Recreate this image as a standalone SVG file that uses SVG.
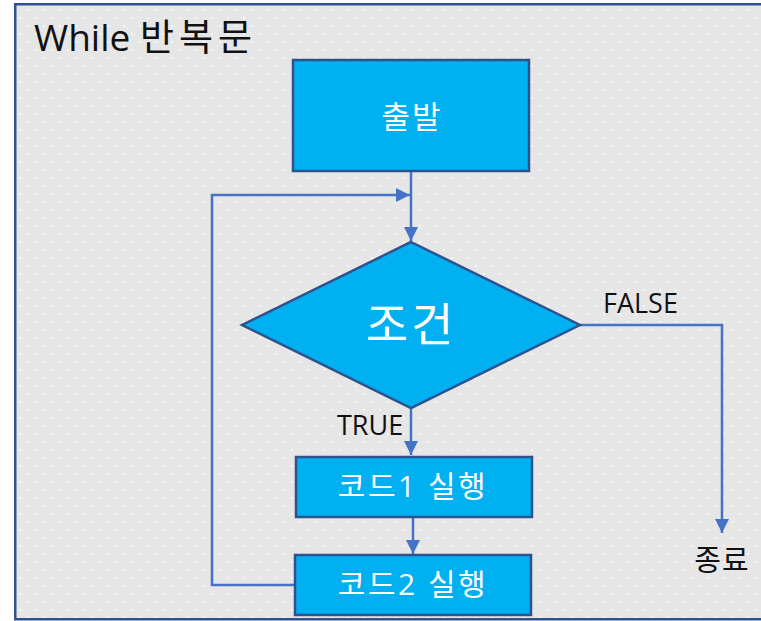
<svg xmlns="http://www.w3.org/2000/svg" width="761" height="621" viewBox="0 0 761 621">
  <defs>
    <pattern id="dots" x="0" y="0" width="16" height="16" patternUnits="userSpaceOnUse">
      <rect x="0" y="0" width="16" height="16" fill="#e7e6e6"/>
      <rect x="3" y="1" width="2" height="2" fill="#f6f6f6"/>
      <rect x="11" y="9" width="2" height="2" fill="#f6f6f6"/>
    </pattern>
    <marker id="arrow" markerUnits="userSpaceOnUse" markerWidth="16" markerHeight="16" viewBox="0 0 16 16" refX="15" refY="8" orient="auto">
      <path d="M1,1 L15,8 L1,15 Z" fill="#4472c4"/>
    </marker>
    <style>
      .frame { fill: url(#dots); stroke: #2f528f; stroke-width: 2.5; }
      .node { fill: #00b0f0; stroke: #2f528f; stroke-width: 2.5; }
      .conn { fill: none; stroke: #4472c4; stroke-width: 2.5; }
      .lbl { font-family: "Open Sans", "Noto Sans CJK KR", sans-serif; fill: #ffffff; text-anchor: middle; }
      .dark { font-family: "Open Sans", "Noto Sans CJK KR", sans-serif; fill: #111111; }
    </style>
  </defs>

  <rect x="0" y="0" width="761" height="621" fill="#ffffff"/>
  <rect class="frame" x="15.25" y="4.25" width="760" height="615"/>
  <text class="dark" x="34" y="51" font-size="37">While <tspan letter-spacing="5">반복문</tspan></text>

  <g id="connectors">
    <path class="conn" d="M411,172 L411,241" marker-end="url(#arrow)"/>
    <path class="conn" d="M295,585 L212,585 L212,195 L410,195" marker-end="url(#arrow)"/>
    <path class="conn" d="M580,325 L722,325 L722,533" marker-end="url(#arrow)"/>
    <path class="conn" d="M411,408 L411,455" marker-end="url(#arrow)"/>
    <path class="conn" d="M413,517 L413,554" marker-end="url(#arrow)"/>
    <text class="dark" x="603" y="313" font-size="27">FALSE</text>
    <text class="dark" x="337" y="435" font-size="27">TRUE</text>
  </g>

  <g id="start">
    <rect class="node" x="293" y="60" width="236" height="111"/>
    <text class="lbl" x="412" y="128" font-size="31" letter-spacing="2">출발</text>
  </g>

  <g id="condition">
    <polygon class="node" points="411,242 580,325 411,408 242,325"/>
    <text class="lbl" x="411" y="341" font-size="46" letter-spacing="3">조건</text>
  </g>

  <g id="code1">
    <rect class="node" x="296" y="457" width="236" height="60"/>
    <text class="lbl" x="413" y="497" font-size="30" letter-spacing="2.5">코드1 실행</text>
  </g>

  <g id="code2">
    <rect class="node" x="295" y="555" width="236" height="60"/>
    <text class="lbl" x="413" y="595" font-size="30" letter-spacing="2.5">코드2 실행</text>
  </g>

  <g id="end">
    <text class="dark" x="722" y="571" font-size="29" text-anchor="middle" letter-spacing="1">종료</text>
  </g>
</svg>
